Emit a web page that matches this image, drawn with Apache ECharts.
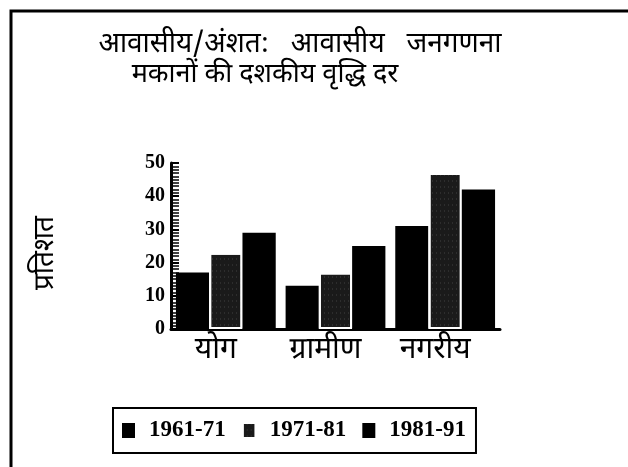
<!DOCTYPE html>
<html>
<head>
<meta charset="utf-8">
<script src="https://cdn.jsdelivr.net/npm/echarts@6/dist/echarts.min.js"></script>
<style>
  html, body { margin: 0; padding: 0; background: #fff; }
  #chart { width: 628px; height: 467px; }
</style>
</head>
<body>
<div id="chart"></div>
<script>
// श्रेणियाँ और दशक
const categories = ['योग', 'ग्रामीण', 'नगरीय']
const decades = ['1961-71', '1971-81', '1981-91']

// दशकीय वृद्धि दर (प्रतिशत), चित्र से पढ़े गए
const growth6171 = [17, 13, 31]
const growth7181 = [23, 17, 47]
const growth8191 = [29, 25, 42]

const yTicks = [0, 10, 20, 30, 40, 50]

const hindiFont = '"Noto Sans Devanagari", "Lohit Devanagari", "Noto Sans", sans-serif'
const numFont = '"Liberation Serif", "DejaVu Serif", serif'

const chart = echarts.init(document.getElementById('chart'))

const option = {
  animation: false,
  backgroundColor: '#fff',
  graphic: [
    // बाहरी फ्रेम
    {
      type: 'polyline',
      shape: { points: [[11, 467], [11, 11], [628, 11]] },
      style: { stroke: '#000', lineWidth: 3, fill: null }
    },
    // शीर्षक (दो पंक्तियाँ)
    {
      type: 'text',
      x: 300,
      y: 47,
      style: {
        text: 'आवासीय/अंशत:   आवासीय   जनगणना',
        font: '28px ' + hindiFont,
        fill: '#000',
        align: 'center',
        verticalAlign: 'middle'
      }
    },
    {
      type: 'text',
      x: 265,
      y: 77,
      style: {
        text: 'मकानों की दशकीय वृद्धि दर',
        font: '27px ' + hindiFont,
        fill: '#000',
        align: 'center',
        verticalAlign: 'middle'
      }
    },
    // y अक्ष का नाम
    {
      type: 'text',
      x: 48,
      y: 253,
      rotation: Math.PI / 2,
      style: {
        text: 'प्रतिशत',
        font: '28px ' + hindiFont,
        fill: '#000',
        align: 'center',
        verticalAlign: 'middle'
      }
    }
  ],
  legend: {
    data: decades,
    left: 113,
    top: 408,
    padding: [11, 10, 11, 9],
    borderColor: '#000',
    borderWidth: 2,
    itemWidth: 13,
    itemHeight: 15,
    itemGap: 16,
    icon: 'rect',
    textStyle: { fontFamily: numFont, fontWeight: 'bold', fontSize: 23, color: '#000', padding: [0, 0, 0, 9] }
  },
  grid: {
    left: 171,
    right: 128,
    top: 163,
    bottom: 138
  },
  xAxis: {
    type: 'category',
    data: categories,
    axisLine: { lineStyle: { color: '#000', width: 3 } },
    axisTick: { show: false },
    axisLabel: {
      fontFamily: hindiFont,
      fontSize: 30,
      color: '#000',
      margin: 8,
      padding: [0, 20, 0, 0]
    }
  },
  yAxis: {
    type: 'value',
    min: 0,
    max: 50,
    interval: 10,
    axisLine: { show: true, lineStyle: { color: '#000', width: 3 } },
    axisTick: { show: true, inside: true, length: 8, lineStyle: { color: '#000', width: 2 } },
    minorTick: { show: true, splitNumber: 10, length: 8, lineStyle: { color: '#000', width: 1.5 } },
    splitLine: { show: false },
    axisLabel: {
      fontFamily: numFont,
      fontWeight: 'bold',
      fontSize: 20,
      color: '#000',
      margin: 6,
      formatter: v => (yTicks.includes(v) ? String(v) : '')
    }
  },
  series: [
    {
      name: decades[0],
      type: 'bar',
      data: growth6171,
      barGap: '0%',
      barCategoryGap: '9%',
      itemStyle: { color: '#000' }
    },
    {
      name: decades[1],
      type: 'bar',
      data: growth7181,
      itemStyle: {
        color: '#1a1a1a',
        borderColor: '#fff',
        borderWidth: 2,
        decal: {
          symbol: 'rect',
          symbolSize: 0.5,
          color: 'rgba(255,255,255,0.35)',
          dashArrayX: [1, 3],
          dashArrayY: [2, 4],
          rotation: 0
        }
      }
    },
    {
      name: decades[2],
      type: 'bar',
      data: growth8191,
      itemStyle: { color: '#000' }
    }
  ]
}

chart.setOption(option)
</script>
</body>
</html>
